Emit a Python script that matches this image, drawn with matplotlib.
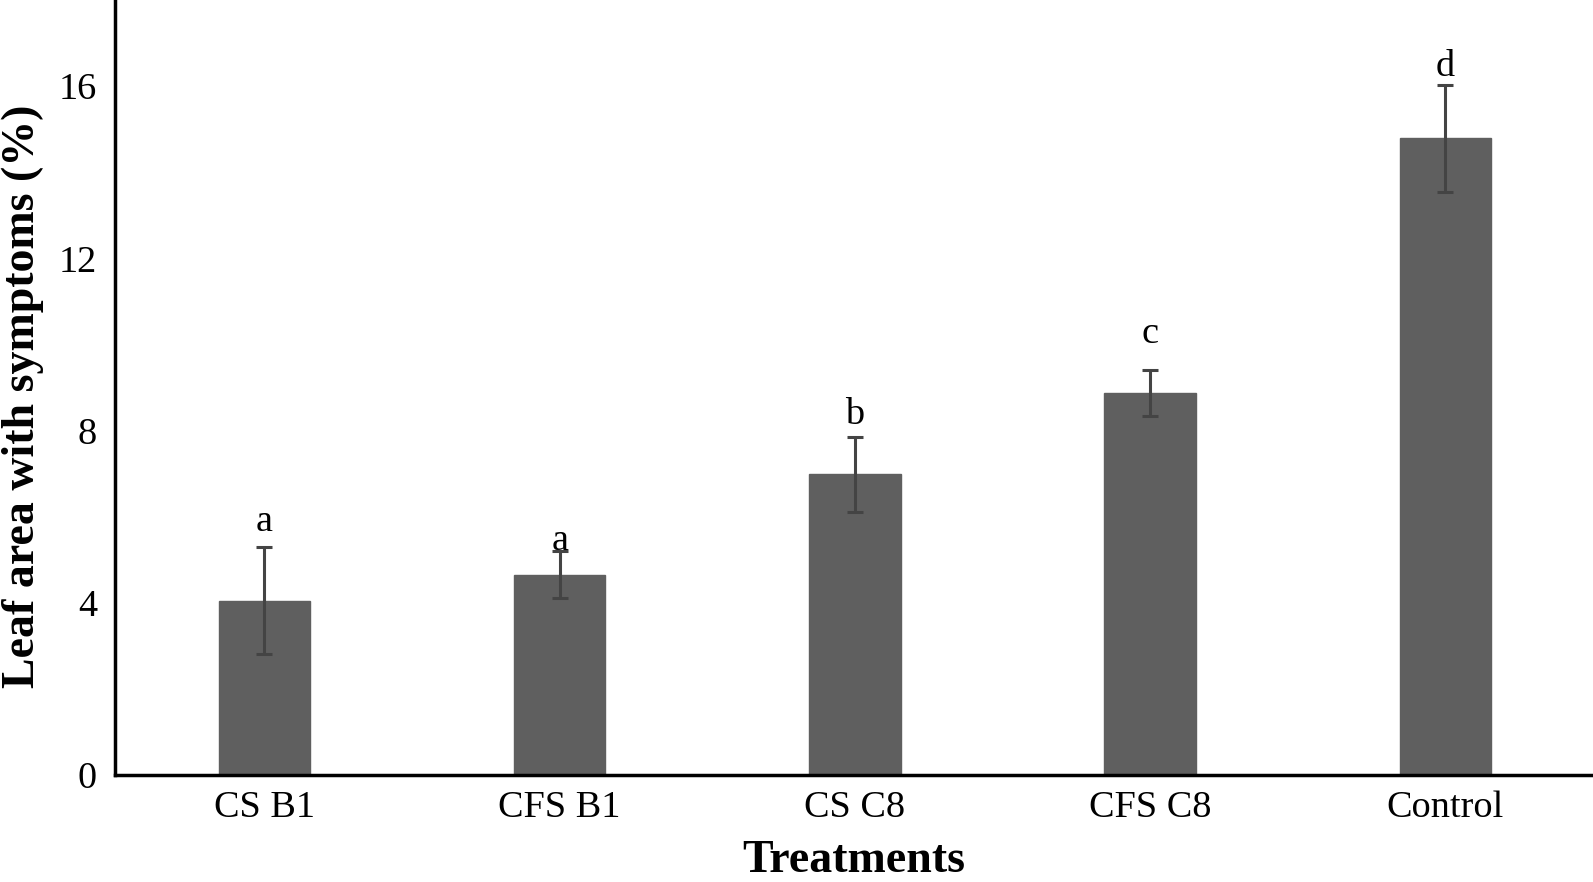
import matplotlib.pyplot as plt

treatments = ["CS B1", "CFS B1", "CS C8", "CFS C8", "Control"]
means = [4.05, 4.65, 6.98, 8.87, 14.79]
errors = [1.25, 0.55, 0.87, 0.53, 1.24]
letters = ["a", "a", "b", "c", "d"]
letter_pad = [0.17, -0.16, 0.12, 0.45, 0.03]
yticks = [0, 4, 8, 12, 16]

plt.rcParams['font.family'] = ['Liberation Serif', 'DejaVu Serif']

fig = plt.figure(figsize=(15.93, 8.82), dpi=100)
ax = fig.add_axes([0.0722, 0.1213, 0.9278, 0.8787])

x = list(range(len(treatments)))
ax.bar(x, means, width=0.31, color='#5f5f5f', edgecolor='#5f5f5f', zorder=2)
ax.errorbar(x, means, yerr=errors, fmt='none', ecolor='#444444',
            elinewidth=2.2, capsize=6, capthick=2.2, zorder=3)

# significance letters above error bars
for xi, m, e, lab, p in zip(x, means, errors, letters, letter_pad):
    ax.text(xi, m + e + p, lab, ha='center', va='bottom', fontsize=27.5)

ax.set_xlim(-0.506, 4.5)
ax.set_ylim(0, 18)
ax.set_xticks(x)
ax.set_xticklabels(treatments, fontsize=27.5)
ax.set_yticks(yticks)
ax.set_yticklabels([str(t) for t in yticks], fontsize=27.5)
ax.tick_params(axis='both', length=0)
ax.tick_params(axis='y', pad=13)
ax.tick_params(axis='x', pad=11)

for side in ['top', 'right']:
    ax.spines[side].set_visible(False)
for side in ['left', 'bottom']:
    ax.spines[side].set_linewidth(2.5)
    ax.spines[side].set_color('black')

ax.set_xlabel("Treatments", fontsize=33, fontweight='bold', labelpad=11)
ax.set_ylabel("Leaf area with symptoms (%)", fontsize=33, fontweight='bold')
ax.yaxis.set_label_coords(-0.0625, 0.488)
ax.yaxis.label.set_va('center')

fig.savefig("out.png", dpi=100)
